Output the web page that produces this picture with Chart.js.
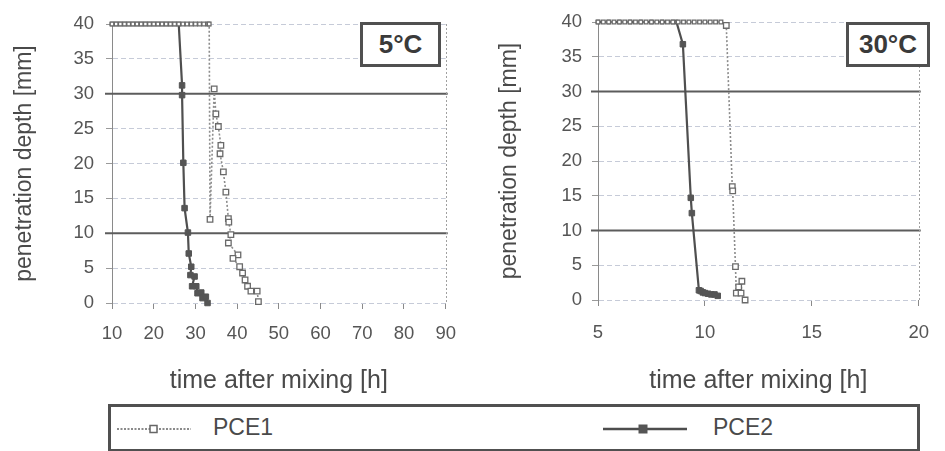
<!DOCTYPE html>
<html><head><meta charset="utf-8">
<script src="https://cdn.jsdelivr.net/npm/chart.js@4.4.1/dist/chart.umd.min.js"></script>
<style>
html,body{margin:0;padding:0;background:#fff;}
body{width:945px;height:451px;position:relative;overflow:hidden;font-family:"Liberation Sans",Arial,sans-serif;}
#w1{position:absolute;left:0;top:0;width:470px;height:400px;}
#w2{position:absolute;left:470px;top:0;width:475px;height:400px;}
.temp{position:absolute;border:3px solid #505050;color:#3a3a3a;font-weight:bold;font-size:26px;text-align:center;box-sizing:border-box;background:#fff;line-height:39px;}
#legend{position:absolute;left:108px;top:404px;width:812px;height:48px;border:3px solid #505050;box-sizing:border-box;background:#fff;}
.ls{position:absolute;top:12px;}
.lt{position:absolute;top:7px;font-size:23px;color:#4a4a4a;}
</style>
</head><body>
<div id="w1"><canvas id="c1"></canvas></div>
<div id="w2"><canvas id="c2"></canvas></div>
<div class="temp" style="left:360px;top:22px;width:81px;height:45px;">5°C</div>
<div class="temp" style="left:846px;top:22px;width:84px;height:45px;">30°C</div>
<div id="legend">
  <svg class="ls" style="left:6px;" width="74" height="20"><line x1="0" y1="10" x2="74" y2="10" stroke="#8a8a8a" stroke-width="2" stroke-dasharray="2,1.5"/><rect x="33" y="6.5" width="7" height="7" fill="#fff" stroke="#666" stroke-width="1.5"/></svg>
  <div class="lt" style="left:102px;">PCE1</div>
  <svg class="ls" style="left:492px;" width="84" height="20"><line x1="0" y1="10" x2="84" y2="10" stroke="#4d4d4d" stroke-width="2.5"/><rect x="36" y="6" width="8" height="8" fill="#555" stroke="#555"/></svg>
  <div class="lt" style="left:602px;">PCE2</div>
</div>
<script>
// ---- data ----
const seriesNames = ["PCE1", "PCE2"];

// 5 °C panel
const t5_PCE1 = [10,11,12,13,14,15,16,17,18,19,20,21,22,23,24,25,26,27,28,29,30,31,32,33,33.3,33.5,34.5,34.9,35.5,36.1,35.9,36.7,37.3,37.9,38.0,38.5,37.9,40.2,39.0,40.6,41.3,41.9,42.5,43.3,44.8,45.1];
const d5_PCE1 = [40,40,40,40,40,40,40,40,40,40,40,40,40,40,40,40,40,40,40,40,40,40,40,40,40,12.0,30.7,27.1,25.3,22.6,21.4,18.8,15.9,12.1,11.6,9.8,8.6,6.9,6.4,5.2,4.3,3.3,2.4,1.7,1.7,0.2];
const t5_PCE2 = [10,11,12,13,14,15,16,17,18,19,20,21,22,23,24,25,26,26.8,26.8,27.1,27.4,28.2,28.4,29.0,28.8,29.8,29.2,30.2,30.5,31.4,31.7,32.5,32.9];
const d5_PCE2 = [40,40,40,40,40,40,40,40,40,40,40,40,40,40,40,40,40,31.2,29.8,20.1,13.6,10.1,7.1,5.2,4.0,3.8,2.4,2.4,1.4,1.5,0.7,0.9,0.0];

// 30 °C panel
const t30_PCE1 = [5,5.25,5.5,5.75,6,6.25,6.5,6.75,7,7.25,7.5,7.75,8,8.25,8.5,8.75,9,9.25,9.5,9.75,10,10.25,10.5,10.75,11.0,11.28,11.3,11.43,11.47,11.58,11.73,11.69,11.88];
const d30_PCE1 = [40,40,40,40,40,40,40,40,40,40,40,40,40,40,40,40,40,40,40,40,40,40,40,40,39.5,16.3,15.7,4.8,1.0,1.9,2.7,1.0,0.0];
const t30_PCE2 = [5,5.5,6,6.5,7,7.5,8,8.5,8.67,8.97,9.34,9.39,9.72,9.8,9.9,10.0,10.15,10.3,10.45,10.6];
const d30_PCE2 = [40,40,40,40,40,40,40,40,40,36.8,14.7,12.5,1.4,1.3,1.1,1.0,0.9,0.8,0.8,0.6];

// axis ticks / reference lines
const yTicks = [0,5,10,15,20,25,30,35,40];
const xTicks5 = [10,20,30,40,50,60,70,80,90];
const xTicks30 = [5,10,15,20];
const heavyY = [10,30];
const tempLabels = ["5°C","30°C"];
const yTitle = "penetration depth [mm]";
const xTitle = "time after mixing [h]";

// ---- helpers ----
const FONT = '"Liberation Sans", Arial, sans-serif';
const pts = (xs, ys) => xs.map((x, i) => ({x: x, y: ys[i]}));

const frame = {
  id: 'frame',
  beforeDatasetsDraw(chart) {
    const {ctx, chartArea, scales} = chart;
    const y = scales.y;
    ctx.save();
    ctx.strokeStyle = '#5c5c5c';
    ctx.lineWidth = 2;
    heavyY.forEach(v => {
      const py = y.getPixelForValue(v);
      ctx.beginPath(); ctx.moveTo(chartArea.left - 7, py); ctx.lineTo(chartArea.right + 2, py); ctx.stroke();
    });
    ctx.strokeStyle = '#a0a0a0';
    ctx.lineWidth = 1;
    ctx.setLineDash([2, 2]);
    ctx.beginPath(); ctx.moveTo(Math.round(chartArea.right) + 0.5, chartArea.top); ctx.lineTo(Math.round(chartArea.right) + 0.5, chartArea.bottom); ctx.stroke();
    ctx.restore();
  }
};

function makeChart(id, xs1, ys1, xs2, ys2, xmin, xmax, xTickVals, cfg) {
  const radius = c => (c.raw && c.raw.y === 40 ? 2.6 : 3.9);
  return new Chart(document.getElementById(id), {
    type: 'scatter',
    data: {
      datasets: [
        {
          label: seriesNames[0], data: pts(xs1, ys1), showLine: true,
          borderColor: '#8c8c8c', borderWidth: 1.6, borderDash: [2, 2],
          pointStyle: 'rect', pointRadius: radius, pointBackgroundColor: '#ffffff',
          pointBorderColor: '#6a6a6a', pointBorderWidth: 1.3, clip: false, order: 1
        },
        {
          label: seriesNames[1], data: pts(xs2, ys2), showLine: true,
          borderColor: '#4f4f4f', borderWidth: 2.2,
          pointStyle: 'rect', pointRadius: radius, pointBackgroundColor: '#555555',
          pointBorderColor: '#555555', pointBorderWidth: 1, clip: false, order: 2
        }
      ]
    },
    options: {
      responsive: true, maintainAspectRatio: false, animation: false,
      layout: {padding: {left: 0, top: cfg.top, right: cfg.right, bottom: 0}},
      plugins: {legend: {display: false}, tooltip: {enabled: false}},
      scales: {
        x: {
          type: 'linear', min: xmin, max: xmax,
          afterBuildTicks: s => { s.ticks = xTickVals.map(v => ({value: v})); },
          afterFit: s => { s.height = cfg.xh; },
          grid: {drawOnChartArea: false, drawTicks: true, tickLength: 6, color: '#8a8a8a'},
          border: {display: false},
          ticks: {autoSkip: false, maxRotation: 0, padding: cfg.xpad, color: '#555', font: {family: FONT, size: 18.5}},
          title: {display: true, text: xTitle, color: '#4a4a4a', font: {family: FONT, size: 25}, padding: {top: 0, bottom: 4}}
        },
        y: {
          type: 'linear', min: 0, max: 40,
          afterBuildTicks: s => { s.ticks = yTicks.map(v => ({value: v})); },
          afterFit: s => { s.width = cfg.yw; },
          grid: {color: '#c6cbd8', lineWidth: 1, tickLength: 6, tickColor: '#9a9a9a'},
          border: {display: true, color: '#8a8a8a', width: 1, dash: [5, 3]},
          ticks: {padding: cfg.ypad, color: '#555', font: {family: FONT, size: 18.5}},
          title: {display: true, text: yTitle, color: '#4a4a4a', font: {family: FONT, size: 23}, padding: {top: cfg.ytp, bottom: 0}}
        }
      }
    },
    plugins: [frame]
  });
}

makeChart('c1', t5_PCE1, d5_PCE1, t5_PCE2, d5_PCE2, 10, 90, xTicks5,
  {top: 24, right: 22, xh: 97, yw: 112, xpad: 14, ypad: 12, ytp: 11});
makeChart('c2', t30_PCE1, d30_PCE1, t30_PCE2, d30_PCE2, 5, 20, xTicks30,
  {top: 22, right: 12, xh: 100, yw: 128, xpad: 16, ypad: 10, ytp: 26});
</script>
</body></html>
